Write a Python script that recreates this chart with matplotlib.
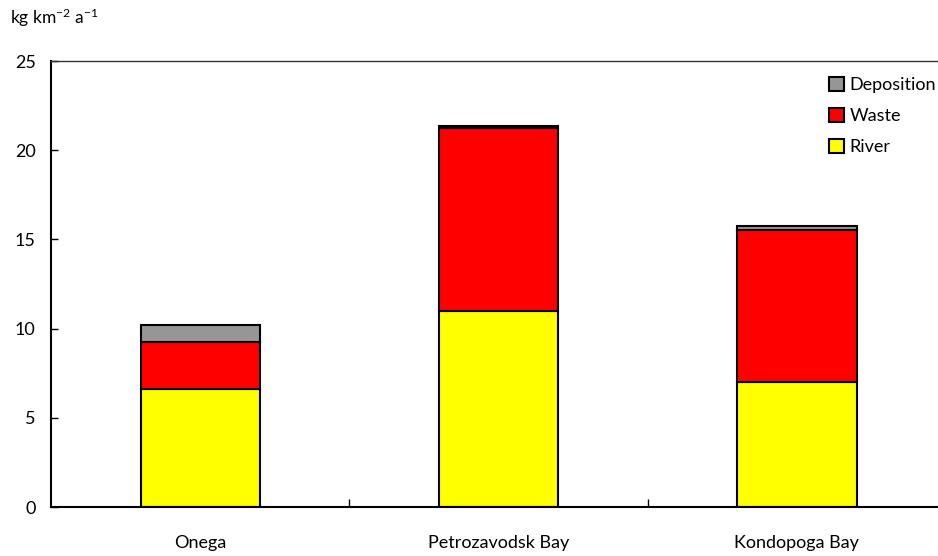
import matplotlib.pyplot as plt
import numpy as np

plt.rcParams["font.family"] = ["Lato", "DejaVu Sans"]
plt.rcParams["mathtext.default"] = "regular"

categories = ["Onega", "Petrozavodsk Bay", "Kondopoga Bay"]
river = [6.6, 11.0, 7.0]
waste = [2.65, 10.25, 8.55]
deposition = [0.97, 0.08, 0.22]

fig = plt.figure(figsize=(9.38, 5.56), dpi=100, facecolor="white")
ax = fig.add_axes([51 / 938, 49 / 556, 895 / 938, 446 / 556])

x = np.arange(len(categories))
width = 0.4
edge = dict(edgecolor="black", linewidth=1.5)

b_river = ax.bar(x, river, width, color="#ffff00", label="River", **edge)
b_waste = ax.bar(x, waste, width, bottom=river, color="#ff0000", label="Waste", **edge)
bottom2 = [r + w for r, w in zip(river, waste)]
b_dep = ax.bar(x, deposition, width, bottom=bottom2, color="#969696",
               label="Deposition", **edge)

ax.set_xlim(-0.5, len(categories) - 0.5)
ax.set_ylim(0, 25)
ax.set_yticks(range(0, 26, 5))
ax.tick_params(axis="y", direction="in", length=5, width=1, labelsize=13, pad=11)

# category separators as inward ticks on the x axis
ax.set_xticks(x)
ax.set_xticklabels(categories, fontsize=13)
ax.tick_params(axis="x", length=0, pad=20)
ax.set_xticks(x[:-1] + 0.5, minor=True)
ax.tick_params(axis="x", which="minor", direction="in", length=6, width=1)

ax.spines["left"].set_linewidth(1.5)
ax.spines["bottom"].set_linewidth(1.5)
ax.spines["top"].set_linewidth(1.0)
ax.spines["top"].set_color("#333333")
ax.spines["right"].set_visible(False)

ax.legend(handles=[b_dep, b_waste, b_river], loc="upper right",
          bbox_to_anchor=(936 / 938, 1 - 77 / 556),
          bbox_transform=fig.transFigure, frameon=False, fontsize=13,
          handlelength=0.85, handleheight=0.85, handletextpad=0.3,
          labelspacing=0.8, borderaxespad=0, borderpad=0)

fig.text(10 / 938, 1 - 18 / 556, "kg km$^{-2}$ a$^{-1}$", fontsize=12.5,
         va="center", ha="left")

fig.savefig("out.png", dpi=100, facecolor="white")
